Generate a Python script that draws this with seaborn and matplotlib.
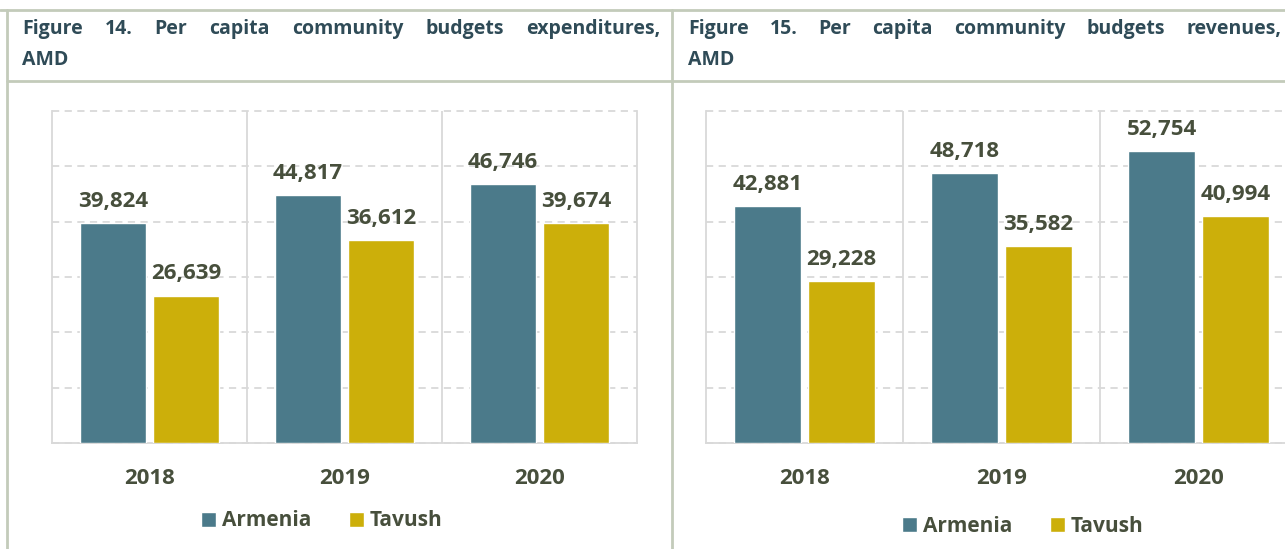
import pandas as pd
import matplotlib.pyplot as plt
import seaborn as sns
from matplotlib.lines import Line2D

COLORS = ["#4B7A8A", "#CCAF0A"]  # Armenia, Tavush
TXT = "#474F3C"
TITLE_C = "#2F4B57"
BORDER = "#C3CBBA"
GRID = "#D9D9D9"

years = ["2018", "2019", "2020"]
regions = ["Armenia", "Tavush"]
exp_armenia = [39824, 44817, 46746]
exp_tavush = [26639, 36612, 39674]
rev_armenia = [42881, 48718, 52754]
rev_tavush = [29228, 35582, 40994]

titles = [("Figure 14. Per capita community budgets expenditures,", "AMD"),
          ("Figure 15. Per capita community budgets revenues,", "AMD")]


def long_df(arm, tav):
    return pd.DataFrame({
        "Year": years * 2,
        "Region": [regions[0]] * 3 + [regions[1]] * 3,
        "Value": arm + tav})


sns.set_style("white")
plt.rcParams["font.family"] = ["Open Sans", "DejaVu Sans"]

W, H = 1285, 549
fig = plt.figure(figsize=(W / 100, H / 100), dpi=100)


def fx(px):
    return px / W


def fy(py):
    return 1 - py / H


# table borders
for seg in [((0, W), (10, 10)), ((7, W), (81, 81)), ((7, 7), (10, H)), ((672, 672), (10, H))]:
    fig.add_artist(Line2D([fx(seg[0][0]), fx(seg[0][1])], [fy(seg[1][0]), fy(seg[1][1])],
                          color=BORDER, lw=2))

# titles (first line justified)
renderer = fig.canvas.get_renderer()
title_boxes = [(22, 660), (688, 1281)]
for (line1, line2), (x0, x1) in zip(titles, title_boxes):
    words = line1.split()
    texts = [fig.text(0, fy(29), w, fontsize=14, fontweight="bold", color=TITLE_C, va="center")
             for w in words]
    widths = [t.get_window_extent(renderer).width for t in texts]
    space = (x1 - x0 - sum(widths)) / (len(words) - 1)
    x = x0
    for t, w in zip(texts, widths):
        t.set_x(fx(x))
        x += w + space
    fig.text(fx(x0), fy(60), line2, fontsize=14, fontweight="bold", color=TITLE_C, va="center")

panels = [
    (long_df(exp_armenia, exp_tavush), 52, 585, 322, 521),
    (long_df(rev_armenia, rev_tavush), 706, 591, 1023, 526),
]

for data, left, width, leg_x, leg_y in panels:
    ax = fig.add_axes([fx(left), fy(443), fx(width), (443 - 111) / H])
    sns.barplot(data=data, x="Year", y="Value", hue="Region", palette=COLORS, saturation=1,
                width=0.75, gap=0.1, edgecolor="white", linewidth=1, ax=ax, zorder=3)
    ax.set_ylim(0, 60000)
    ax.set_xlim(-0.5, 2.5)
    ax.set_yticks(range(0, 60001, 10000))
    ax.yaxis.grid(True, color=GRID, linestyle=(0, (4, 3)), linewidth=1.3, zorder=0)
    for g in ax.get_ygridlines():
        g.set_clip_on(False)
    for xv in [0.5, 1.5]:
        ax.axvline(xv, color=GRID, lw=1.3, zorder=1)
    ax.tick_params(axis="y", left=False, labelleft=False)
    ax.tick_params(axis="x", length=0, pad=18, labelsize=16, labelcolor=TXT)
    for lab in ax.get_xticklabels():
        lab.set_fontweight("bold")
    for s in ["left", "right", "bottom"]:
        ax.spines[s].set_color(GRID)
        ax.spines[s].set_linewidth(1.3)
    ax.spines["top"].set_visible(False)
    ax.set_xlabel("")
    ax.set_ylabel("")
    for cont in ax.containers:
        ax.bar_label(cont, fmt="{:,.0f}", padding=8, fontsize=16, fontweight="bold", color=TXT)
    handles, labels = ax.get_legend_handles_labels()
    ax.legend(handles, labels, loc="center", bbox_to_anchor=(fx(leg_x), fy(leg_y)),
              bbox_transform=fig.transFigure, ncol=2, frameon=False,
              prop={"size": 15, "weight": "bold"}, labelcolor=TXT,
              handlelength=0.7, handleheight=0.7, handletextpad=0.3, columnspacing=1.8)

fig.savefig("out.png", dpi=100, facecolor="white")
